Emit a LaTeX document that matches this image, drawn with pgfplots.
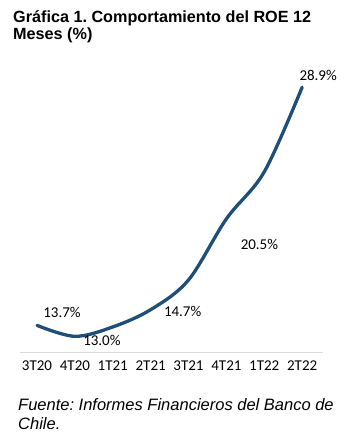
\documentclass[border=0pt]{standalone}
\usepackage{pgfplots}
\pgfplotsset{compat=1.18}
\usepackage{fontspec}
\setmainfont{Liberation Sans}
\newfontfamily\calib{Carlito}
\definecolor{roeblue}{HTML}{1F4E79}
\definecolor{axisgray}{HTML}{D9D9D9}
\frenchspacing
\begin{document}
\begin{tikzpicture}[x=1pt,y=1pt]
\useasboundingbox (0,0) rectangle (352,437);
\node[anchor=base west,font=\bfseries\fontsize{16.2}{17}\selectfont,inner sep=0pt] at (13,437-22.7) {Gráfica 1. Comportamiento del ROE 12};
\node[anchor=base west,font=\bfseries\fontsize{16.2}{17}\selectfont,inner sep=0pt] at (13,437-39.5) {Meses (\%)};
\node[anchor=base west,font=\itshape\fontsize{16.5}{16}\selectfont,inner sep=0pt] at (18,437-410) {Fuente: Informes Financieros del Banco de};
\node[anchor=base west,font=\itshape\fontsize{16.5}{16}\selectfont,inner sep=0pt] at (18,437-429) {Chile.};
\begin{axis}[
  at={(20pt,85pt)}, anchor=south west,
  scale only axis, width=303pt, height=293pt,
  xmin=-0.45, xmax=7.55, ymin=12, ymax=30.7,
  axis y line=none,
  axis x line*=bottom,
  x axis line style={draw=axisgray, line width=0.8pt, -},
  xtick={0,...,7},
  xticklabels={3T20,4T20,1T21,2T21,3T21,4T21,1T22,2T22},
  major tick length=0pt,
  xticklabel style={font=\calib\fontsize{15}{15}\selectfont, yshift=-5pt},
  clip=false,
]
\addplot[roeblue, line width=3.3pt, smooth, tension=0.55, line cap=round] coordinates {
  (0,13.7) (1,13.0) (2,13.6) (3,14.7) (4,16.6) (5,20.5) (6,23.5) (7,28.9)
};
\begin{scope}[every node/.style={font=\calib\fontsize{15}{15}\selectfont, inner sep=0pt}]
\node at (axis cs:0,13.7) [xshift=25pt, yshift=13pt] {13.7\%};
\node at (axis cs:1,13.0) [xshift=27pt, yshift=-4pt] {13.0\%};
\node at (axis cs:3,14.7) [xshift=32pt, yshift=-2pt] {14.7\%};
\node at (axis cs:5,20.5) [xshift=33pt, yshift=-26pt] {20.5\%};
\node at (axis cs:7,28.9) [xshift=16pt, yshift=12pt] {28.9\%};
\end{scope}
\end{axis}
\end{tikzpicture}
\end{document}
